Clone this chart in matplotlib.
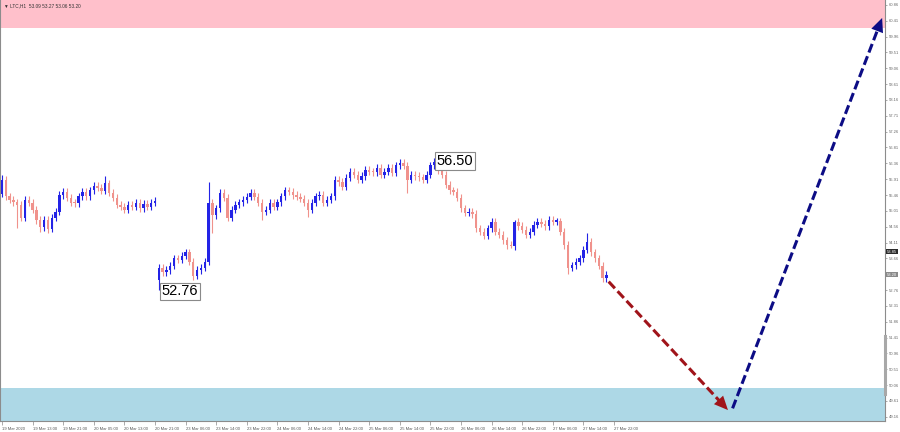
import matplotlib
matplotlib.use("Agg")
import matplotlib.pyplot as plt
import matplotlib.transforms as mtransforms
import numpy as np

# hourly closes
closes = [55.89, 55.43, 55.32, 55.26, 55.18, 54.81, 55.32, 55.24, 55.04, 54.75,
          54.55, 54.75, 54.50, 54.81, 54.98, 55.46, 55.55, 55.38, 55.24, 55.22,
          55.43, 55.55, 55.43, 55.60, 55.72, 55.66, 55.58, 55.80, 55.52, 55.38,
          55.18, 55.12, 55.04, 55.18, 55.12, 55.24, 55.09, 55.21, 55.12, 55.24,
          55.29,
          53.39, 53.27, 53.33, 53.45, 53.67, 53.62, 53.73, 53.84, 53.56, 53.16,
          53.33, 53.39, 53.56, 55.24, 54.89, 55.09, 55.52, 55.38, 54.81, 55.04,
          55.18, 55.26, 55.32, 55.41, 55.52, 55.41, 55.24, 54.98, 55.04, 55.24,
          55.12, 55.26, 55.43, 55.60, 55.55, 55.46, 55.41, 55.35, 55.24, 55.04,
          55.24, 55.43, 55.46, 55.24, 55.32, 55.43, 55.89, 55.83, 55.69, 55.95,
          56.12, 56.03, 55.89, 56.00, 56.17, 56.12, 56.10, 56.23, 56.03, 56.12,
          56.23, 56.09, 56.31, 56.37, 56.29, 55.89, 56.03, 56.00, 55.97, 55.89,
          56.03, 56.31, 56.40, 56.17, 56.03, 55.75, 55.60, 55.55, 55.38, 55.09,
          54.95, 54.98, 54.92, 54.52, 54.41, 54.30, 54.52, 54.70, 54.41, 54.33,
          54.18, 54.04, 54.01, 54.70, 54.58, 54.47, 54.33, 54.41, 54.61, 54.70,
          54.64, 54.58, 54.75, 54.70, 54.72, 54.41, 54.04, 53.39, 53.47, 53.56,
          53.67, 53.90, 54.13, 53.84, 53.67, 53.45, 53.09, 53.20]
gap_opens = {0: 55.50, 41: 53.05}
high_marks = {0: 56.03, 27: 56.00, 54: 55.83, 57: 55.62, 103: 56.40, 113: 56.50,
              134: 54.75, 153: 54.38}
low_marks = {4: 54.52, 10: 54.40, 12: 54.38, 41: 52.76, 50: 53.05, 55: 54.38,
             68: 54.75, 80: 54.84, 106: 55.52, 148: 53.22, 133: 53.95}

# forecast arrows (bar index, price)
down_leg = [(158.6, 53.00), (189.8, 49.35)]
up_leg = [(191.0, 49.40), (230.1, 60.49)]

resist_zone = (60.21, 61.2)
support_zone = (48.9, 49.98)

y_ticks = [60.86, 60.41, 59.96, 59.51, 59.06, 58.61, 58.16, 57.71, 57.26, 56.81,
           56.36, 55.91, 55.46, 55.01, 54.56, 54.11, 53.66, 52.76, 52.31, 51.86,
           51.41, 50.96, 50.51, 50.06, 49.61, 49.16]
x_labels = ["19 Mar 2020", "19 Mar 13:00", "19 Mar 21:00", "20 Mar 05:00",
            "20 Mar 13:00", "20 Mar 21:00", "23 Mar 06:00", "23 Mar 14:00",
            "23 Mar 22:00", "24 Mar 06:00", "24 Mar 14:00", "24 Mar 22:00",
            "25 Mar 06:00", "25 Mar 14:00", "25 Mar 22:00", "26 Mar 06:00",
            "26 Mar 14:00", "26 Mar 22:00", "27 Mar 06:00", "27 Mar 14:00",
            "27 Mar 22:00"]
header = "\u25bc LTC,H1  53.09 53.27 53.06 53.20"

small = ['Liberation Sans', 'DejaVu Sans']

fig = plt.figure(figsize=(9, 4.32), dpi=100)
ax = fig.add_axes([0, 11 / 432, 885 / 900, 421 / 432])
ax.set_xlim(-0.523, 230.85)
ax.set_ylim(49.04, 61.0)

ax.axhspan(*resist_zone, color='#ffc0cb', lw=0, zorder=0)
ax.axhspan(*support_zone, color='#add8e6', lw=0, zorder=0)

n = len(closes)
idx = np.arange(n)
opens = [gap_opens.get(i, closes[i - 1]) for i in range(n)]
highs = [high_marks.get(i, max(opens[i], closes[i]) + 0.1) for i in range(n)]
lows = [low_marks.get(i, min(opens[i], closes[i]) - 0.1) for i in range(n)]
cols = ['#2323e6' if closes[i] >= opens[i] else '#f0928c' for i in range(n)]
bottoms = [min(o, c) for o, c in zip(opens, closes)]
heights = [max(abs(c - o), 0.04) for o, c in zip(opens, closes)]

ax.vlines(idx, lows, highs, colors=cols, lw=0.8, zorder=2)
ax.bar(idx, heights, bottom=bottoms, width=0.62, color=cols, lw=0, zorder=3)

# forecast arrows
for leg, col in [(down_leg, '#a0141a'), (up_leg, '#0c0c85')]:
    (x0, y0), (x1, y1) = leg
    ax.plot([x0, x1 - (x1 - x0) * 0.03], [y0, y1 - (y1 - y0) * 0.03], color=col,
            lw=2.2, dashes=(3, 1.3), solid_capstyle='butt', zorder=4)
    ax.annotate('', xy=(x1, y1), xytext=(x1 - (x1 - x0) * 0.05, y1 - (y1 - y0) * 0.05),
                arrowprops=dict(arrowstyle='-|>,head_length=1.0,head_width=0.45',
                                color=col, lw=0, shrinkA=0, shrinkB=0), zorder=5)

box = dict(boxstyle='square,pad=0.12', fc='white', ec='#8a8a8a', lw=0.8)
ax.text(113.7, 56.43, '56.50', fontsize=10.5, family=small, va='center', ha='left',
        bbox=box, zorder=6)
ax.text(41.8, 52.72, '52.76', fontsize=10.5, family=small, va='center', ha='left',
        bbox=box, zorder=6)

ax.text(0.004, 0.993, header, transform=ax.transAxes, va='top', ha='left',
        fontsize=3.4, family=small, color='#333333')

# axes styling
ax.spines['top'].set_visible(False)
for s in ['left', 'right', 'bottom']:
    ax.spines[s].set_color('#8c8c8c')
    ax.spines[s].set_linewidth(0.8)

ax.yaxis.tick_right()
ax.set_yticks(y_ticks)
ax.set_yticklabels([f"{v:.2f}" for v in y_ticks], fontsize=3.0, family=small)
ax.tick_params(axis='y', length=1.5, width=0.5, pad=1, colors='#888888',
               labelcolor='#666666')

ax.set_xticks(np.arange(len(x_labels)) * 8)
ax.set_xticklabels(x_labels, fontsize=3.0, family=small, ha='left')
ax.tick_params(axis='x', length=3, width=0.5, pad=1.5, colors='#888888',
               labelcolor='#555555')

trans = mtransforms.blended_transform_factory(ax.transAxes, ax.transData)
ax.plot([1, 1], [49.8, 51.45], transform=trans, lw=2.2, color='#a8a8a8', clip_on=False,
        zorder=6)
ax.text(1.002, 53.85, '53.85', transform=trans, fontsize=3.0, family=small, color='white',
        va='center', ha='left', bbox=dict(boxstyle='square,pad=0.15', fc='#2b2b2b', lw=0))
ax.text(1.002, 53.20, '53.20', transform=trans, fontsize=3.0, family=small, color='white',
        va='center', ha='left', bbox=dict(boxstyle='square,pad=0.15', fc='#8a8a8a', lw=0))

fig.savefig('out.png', dpi=100)
